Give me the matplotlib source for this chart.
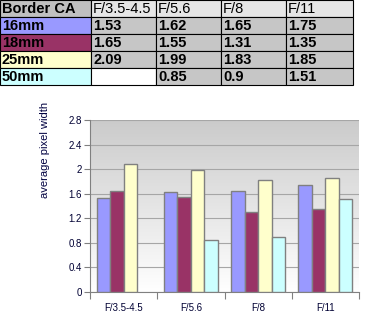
"""Border CA table and grouped bar chart."""

import numpy as np
import matplotlib
matplotlib.use("Agg")
import matplotlib.pyplot as plt
from matplotlib.patches import Rectangle

plt.rcParams["font.family"] = ["Liberation Sans", "DejaVu Sans"]

apertures = ["F/3.5-4.5", "F/5.6", "F/8", "F/11"]
lenses = ["16mm", "18mm", "25mm", "50mm"]
ca_16 = [1.53, 1.62, 1.65, 1.75]
ca_18 = [1.65, 1.55, 1.31, 1.35]
ca_25 = [2.09, 1.99, 1.83, 1.85]
ca_50 = [None, 0.85, 0.9, 1.51]
series = [ca_16, ca_18, ca_25, ca_50]
colors = ["#9999ff", "#993366", "#ffffcc", "#ccffff"]
yticks = [0, 0.4, 0.8, 1.2, 1.6, 2, 2.4, 2.8]

W, H = 368, 323
fig = plt.figure(figsize=(W / 100, H / 100), dpi=100)

# --- table drawn in pixel coordinates ---
tab = fig.add_axes([0, 0, 1, 1])
tab.set_xlim(0, W)
tab.set_ylim(H, 0)
tab.axis("off")

col_x = [0, 91, 156, 221, 286, 353]
row_y = [0, 17, 34, 51, 68, 85]


def cell(c, r, text, bg, bold=True):
    x0, x1 = col_x[c], col_x[c + 1]
    y0, y1 = row_y[r], row_y[r + 1]
    tab.add_patch(Rectangle((x0, y0), x1 - x0, y1 - y0, facecolor=bg,
                            edgecolor="black", linewidth=0.8))
    if text:
        tab.text(x0 + 2, (y0 + y1) / 2 + 0.5, text, ha="left", va="center",
                 fontsize=10.5, fontweight="bold" if bold else "normal",
                 color="black")


cell(0, 0, "Border CA", "#c0c0c0")
for j, ap in enumerate(apertures):
    cell(j + 1, 0, ap, "#e6e6e6", bold=False)
for i, (lens, vals) in enumerate(zip(lenses, series)):
    cell(0, i + 1, lens, colors[i])
    for j, v in enumerate(vals):
        if v is None:
            cell(j + 1, i + 1, "", "white")
        else:
            cell(j + 1, i + 1, f"{v:g}", "#c6c6c6")

# --- bar chart ---
left, right, top, bottom = 90, 359, 120, 292
ax = fig.add_axes([left / W, (H - bottom) / H, (right - left) / W, (bottom - top) / H])

grad = np.linspace(0, 1, 256).reshape(-1, 1)
ax.imshow(grad, extent=[-0.5, len(apertures) - 0.5, 0, 2.8], aspect="auto",
          cmap=matplotlib.colors.LinearSegmentedColormap.from_list(
              "bg", ["#ffffff", "#cbcbcb"]), origin="lower", zorder=0)

x = np.arange(len(apertures))
bw = 0.2
for i, vals in enumerate(series):
    xs = [xi + (i - 1.5) * bw for xi, v in zip(x, vals) if v is not None]
    hs = [v for v in vals if v is not None]
    ax.bar(xs, hs, width=bw, color=colors[i], edgecolor="#808080",
           linewidth=1.0, zorder=3)

text_col = "#000033"
ax.set_xlim(-0.5, len(apertures) - 0.5)
ax.set_ylim(0, 2.8)
ax.set_yticks(yticks)
ax.set_yticklabels([f"{t:g}" for t in yticks], fontsize=7, color=text_col)
ax.yaxis.grid(True, color="#a6a6a6", linewidth=0.8, zorder=1)
ax.set_axisbelow(True)

ax.set_xticks(np.arange(len(apertures) + 1) - 0.5)
ax.set_xticklabels([])
ax.set_xticks(x, minor=True)
ax.set_xticklabels(apertures, minor=True, fontsize=7, color=text_col)
ax.tick_params(axis="x", which="major", length=5, color="#808080", direction="out")
ax.tick_params(axis="x", which="minor", length=0, pad=8)
ax.tick_params(axis="y", length=4, color="#808080", pad=2)

for s in ["top", "right"]:
    ax.spines[s].set_visible(False)
for s in ["left", "bottom"]:
    ax.spines[s].set_color("#808080")

fig.text(45 / W, 1 - 150 / H, "average pixel width", rotation=90,
         ha="center", va="center", fontsize=8, color="#000040")

fig.savefig("out.png", dpi=100)
